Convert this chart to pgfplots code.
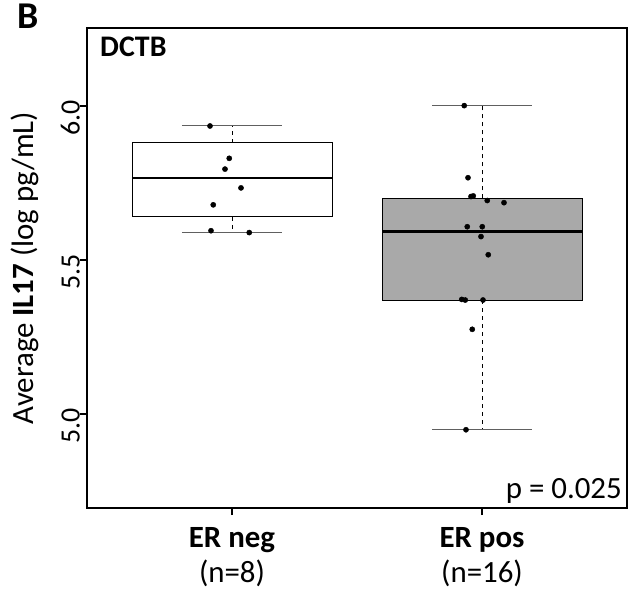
\documentclass[border=0pt]{standalone}
\usepackage{pgfplots}
\pgfplotsset{compat=1.18}
\usepackage{fontspec}
\setmainfont{Carlito}
\definecolor{boxgray}{HTML}{A9A9A9}
\definecolor{capgray}{HTML}{606060}
\begin{document}
\begin{tikzpicture}
\begin{axis}[
  scale only axis,
  width=540bp, height=480bp,
  xmin=0.42, xmax=2.58,
  ymin=4.695, ymax=6.253,
  axis line style={line width=1.4bp},
  tick style={line width=1.2bp, black},
  tick align=outside,
  xtick pos=bottom, ytick pos=left,
  major tick length=7bp,
  xtick={1,2},
  xticklabels={{\textbf{ER neg}\\(n=8)},{\textbf{ER pos}\\(n=16)}},
  xticklabel style={align=center, font=\fontsize{31}{35}\selectfont, inner sep=0pt, anchor=north, yshift=-12bp},
  ytick={5,5.5,6},
  yticklabels={5.0,5.5,6.0},
  yticklabel style={rotate=90, anchor=south, font=\fontsize{28}{30}\selectfont, inner sep=0pt, xshift=-12bp},
  ylabel={Average \textbf{IL17} (log pg/mL)},
  ylabel style={font=\fontsize{31}{36}\selectfont, at={(axis description cs:-0.115,0.5)}, anchor=center},
  /pgf/number format/assume math mode=true,
  clip=false,
]
% Box 1 (ER neg)
\addplot[draw=black, fill=white, line width=0.8bp] coordinates {(0.6,5.640) (1.4,5.640) (1.4,5.881) (0.6,5.881)} -- cycle;
\addplot[black, line width=2.8bp] coordinates {(0.6,5.766) (1.4,5.766)};
\addplot[black, dash pattern=on 4bp off 4bp, line width=0.8bp] coordinates {(1,5.881) (1,5.936)};
\addplot[black, dash pattern=on 4bp off 4bp, line width=0.8bp] coordinates {(1,5.640) (1,5.590)};
\addplot[capgray, line width=1bp] coordinates {(0.8,5.936) (1.2,5.936)};
\addplot[capgray, line width=1bp] coordinates {(0.8,5.590) (1.2,5.590)};
% Box 2 (ER pos)
\addplot[draw=black, fill=boxgray, line width=0.8bp] coordinates {(1.6,5.370) (2.4,5.370) (2.4,5.700) (1.6,5.700)} -- cycle;
\addplot[black, line width=2.8bp] coordinates {(1.6,5.592) (2.4,5.592)};
\addplot[black, dash pattern=on 4bp off 4bp, line width=0.8bp] coordinates {(2,5.700) (2,6.001)};
\addplot[black, dash pattern=on 4bp off 4bp, line width=0.8bp] coordinates {(2,5.370) (2,4.949)};
\addplot[capgray, line width=1bp] coordinates {(1.8,6.001) (2.2,6.001)};
\addplot[capgray, line width=1bp] coordinates {(1.8,4.949) (2.2,4.949)};
% points
\addplot[only marks, mark=*, mark size=2.6bp, black] coordinates {
(0.912,5.935) (0.989,5.830) (0.972,5.795) (1.036,5.734) (0.925,5.679) (0.916,5.595) (1.069,5.589)
};
\addplot[only marks, mark=*, mark size=2.6bp, black] coordinates {
(1.929,6.001) (1.944,5.767) (1.956,5.706) (1.965,5.708) (2.021,5.693) (2.088,5.686)
(1.941,5.608) (2.001,5.608) (1.996,5.576) (2.025,5.517) (1.919,5.372) (1.933,5.370)
(2.004,5.370) (1.961,5.275) (1.936,4.949)
};
\node[anchor=base west, inner sep=0pt, font=\fontsize{30}{36}\selectfont\bfseries] at ([shift={(13bp,-29bp)}]rel axis cs:0,1) {DCTB};
\node[anchor=base east, inner sep=0pt, font=\fontsize{31}{36}\selectfont] at ([shift={(-5bp,10bp)}]rel axis cs:1,0) {p = 0.025};
\node[anchor=base west, inner sep=0pt, font=\fontsize{38}{40}\selectfont\bfseries] at ([shift={(-70bp,-1bp)}]rel axis cs:0,1) {B};
\coordinate (sw) at (rel axis cs:0,0);
\coordinate (ne) at (rel axis cs:1,1);
\end{axis}
\pgfresetboundingbox
\path ([shift={(-87bp,-88bp)}]sw) rectangle ([shift={(8bp,28bp)}]ne);
\end{tikzpicture}
\end{document}
